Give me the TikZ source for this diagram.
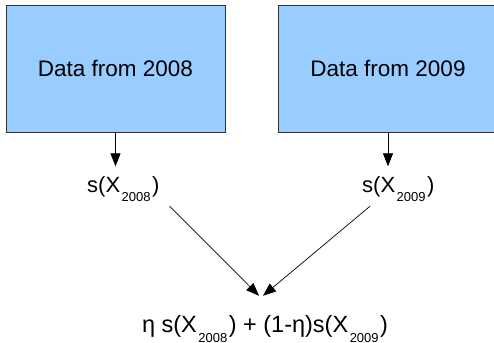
\documentclass[tikz,border=0pt]{standalone}
\usepackage{fontspec}
\setmainfont{Liberation Sans}
\usepackage{xcolor}
\usetikzlibrary{arrows.meta}
\definecolor{boxblue}{RGB}{153,204,255}
\definecolor{boxline}{RGB}{51,51,51}
% lowered small year subscript
\newcommand{\yr}[1]{\kern1.5pt\raisebox{-0.45em}{\fontsize{13}{15}\selectfont#1}\kern1.5pt}

\begin{document}
\begin{tikzpicture}[x=1pt,y=-1pt,
  databox/.style={draw=boxline,fill=boxblue,line width=0.8pt,minimum width=219pt,minimum height=127pt,font=\fontsize{22.5}{27}\selectfont},
  lbl/.style={inner xsep=0pt,inner ysep=4pt,font=\fontsize{22}{26}\selectfont},
  arr/.style={-{Triangle[length=13pt,width=10pt]},line width=0.7pt}]
\useasboundingbox(0,0)rectangle(494,342);
\node[databox](d8)at(115.5,68.5){Data from 2008};
\node[databox](d9)at(388,68.5){Data from 2009};
\node[lbl,anchor=base west](s8)at(87,192){s(X\yr{2008})};
\node[lbl,anchor=base west](s9)at(362,192){s(X\yr{2009})};
\node[lbl,anchor=base,font=\fontsize{23.5}{28}\selectfont](sum)at(265,332){η s(X\yr{2008}) + (1-η)s(X\yr{2009})};
\coordinate(meet)at([yshift=15pt]sum.north);
\draw[arr,shorten >=5.5pt](d8.south)--(d8.south|-s8.north);
\draw[arr,shorten >=5.5pt](d9.south)--(d9.south|-s9.north);
\draw[arr]([xshift=10pt]s8.south east)--([xshift=-6pt]meet);
\draw[arr]([xshift=8pt]s9.south west)--([xshift=-2pt]meet);
\end{tikzpicture}
\end{document}
